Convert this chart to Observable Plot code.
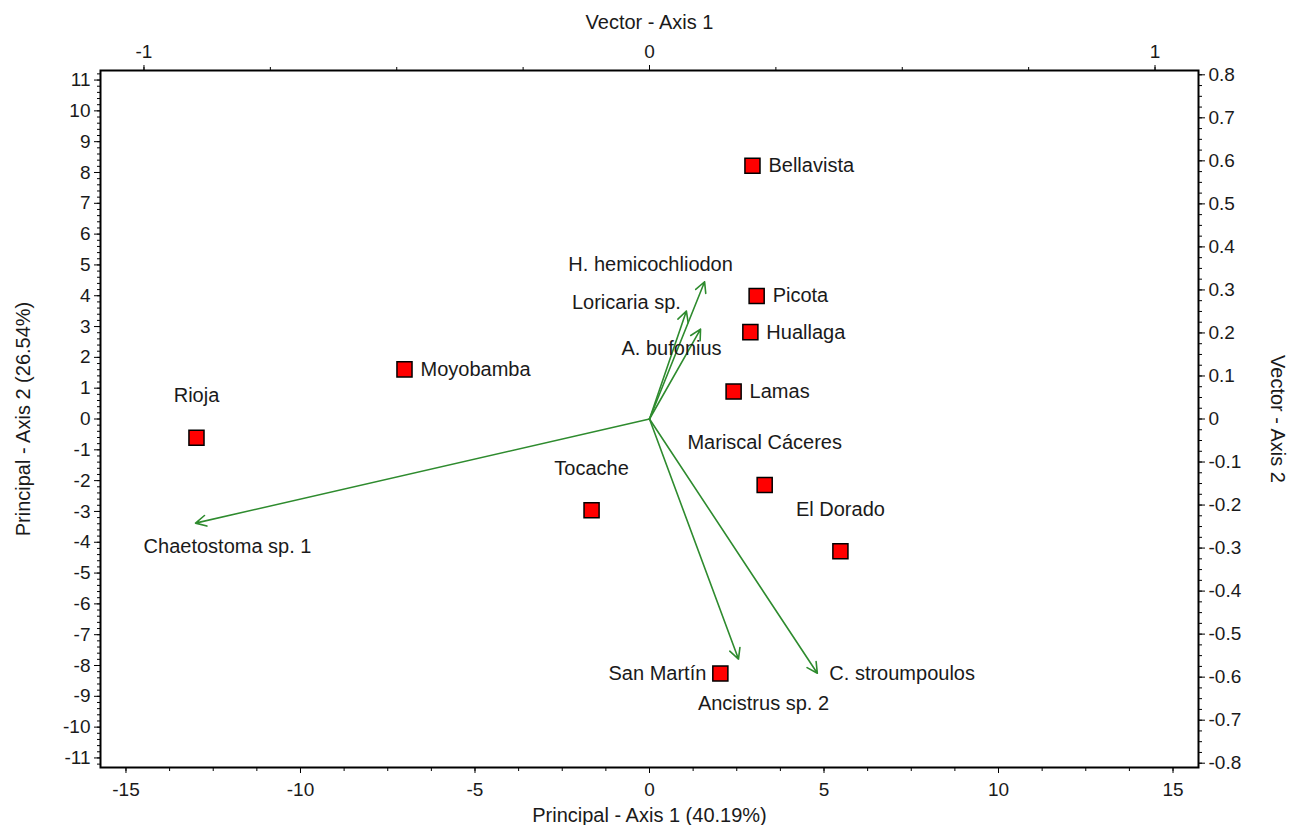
<!DOCTYPE html>
<html>
<head>
<meta charset="utf-8">
<script src="https://cdn.jsdelivr.net/npm/d3@7"></script>
<script src="https://cdn.jsdelivr.net/npm/@observablehq/plot@0.6"></script>
<style>
  body { margin: 0; background: #fff; }
  #chart { position: relative; width: 1292px; height: 825px; font-family: "Liberation Sans", Arial, sans-serif; }
  #chart svg { position: absolute; left: 0; top: 0; }
</style>
</head>
<body>
<div id="chart"></div>
<script>
// ---- Data: sites (principal coordinates) ----
const sites = ["Bellavista", "Picota", "Huallaga", "Lamas", "Moyobamba", "Rioja", "Tocache", "Mariscal Cáceres", "El Dorado", "San Martín"];
const siteX = [2.95, 3.07, 2.89, 2.41, -7.02, -12.98, -1.66, 3.30, 5.47, 2.03];
const siteY = [8.22, 3.99, 2.82, 0.89, 1.61, -0.61, -2.96, -2.14, -4.29, -8.26];

// ---- Data: species vectors (vector coordinates) ----
const species = ["Chaetostoma sp. 1", "H. hemicochliodon", "Loricaria sp.", "A. bufonius", "Ancistrus sp. 2", "C. stroumpoulos"];
const vecX = [-0.898, 0.109, 0.073, 0.101, 0.176, 0.332];
const vecY = [-0.242, 0.319, 0.251, 0.209, -0.558, -0.591];

// ---- Axis ticks ----
const principalXTicks = [-15, -10, -5, 0, 5, 10, 15];
const principalYTicks = [-11, -10, -9, -8, -7, -6, -5, -4, -3, -2, -1, 0, 1, 2, 3, 4, 5, 6, 7, 8, 9, 10, 11];
const vectorXTicks = [-1, 0, 1];
const vectorYTicks = [-0.8, -0.7, -0.6, -0.5, -0.4, -0.3, -0.2, -0.1, 0, 0.1, 0.2, 0.3, 0.4, 0.5, 0.6, 0.7, 0.8];

// ---- Axis titles ----
const titleTop = "Vector - Axis 1";
const titleBottom = "Principal - Axis 1 (40.19%)";
const titleLeft = "Principal - Axis 2 (26.54%)";
const titleRight = "Vector - Axis 2";

// ---- Build tables ----
const siteData = sites.map((name, i) => ({name, x: siteX[i], y: siteY[i]}));
const vecData = species.map((name, i) => ({name, vx: vecX[i], vy: vecY[i]}));

const W = 1292, H = 825;
const margins = {marginLeft: 100, marginRight: 94, marginTop: 70, marginBottom: 58};
const FONT = "Liberation Sans, Arial, sans-serif";
const green = "#2e8b2e";
const tickColor = "#1a1a1a";
const textColor = "#1a1a1a";

const fmtHyphen = (f) => (d) => {
  if (Math.abs(d) < 1e-9) return "0";
  return f(d).replace("−", "-");
};
const fmtInt = fmtHyphen(d3.format("d"));
const fmtDec = fmtHyphen(d3.format(".1f"));

const minor = (a, b, step) => d3.range(Math.round((b - a) / step) + 1).map(i => +(a + i * step).toFixed(6));

// ---- Layer 1: vectors (top & right axes) ----
const vecLabel = {
  "Chaetostoma sp. 1": {dx: 32, dy: 23, textAnchor: "middle"},
  "H. hemicochliodon": {dx: -54, dy: -17, textAnchor: "middle"},
  "Loricaria sp.": {dx: -60, dy: -8, textAnchor: "middle"},
  "A. bufonius": {dx: -29, dy: 20, textAnchor: "middle"},
  "Ancistrus sp. 2": {dx: 25, dy: 45, textAnchor: "middle"},
  "C. stroumpoulos": {dx: 12, dy: 0, textAnchor: "start"}
};

const vectorPlot = Plot.plot({
  width: W, height: H, ...margins,
  style: {background: "transparent", fontFamily: FONT, fontSize: "19px", color: "#000"},
  x: {domain: [-1.086, 1.086]},
  y: {domain: [-0.81, 0.81]},
  marks: [
    Plot.axisX(minor(-1, 1, 0.25), {anchor: "top", tickSize: 4, fill: "none", stroke: "#000"}),
    Plot.axisX(vectorXTicks, {anchor: "top", tickSize: 6, tickPadding: 7, tickFormat: fmtInt, label: null, fill: tickColor, stroke: "#000"}),
    Plot.axisY(minor(-0.8, 0.8, 0.025), {anchor: "right", tickSize: 3, fill: "none", stroke: "#000"}),
    Plot.axisY(vectorYTicks, {anchor: "right", tickSize: 6, tickPadding: 4, tickFormat: fmtDec, label: null, fill: tickColor, stroke: "#000"}),
    Plot.text([titleTop], {frameAnchor: "top", dy: -48, lineAnchor: "middle", fontSize: 20, fill: textColor}),
    Plot.text([titleRight], {frameAnchor: "right", dx: 79, rotate: 90, textAnchor: "middle", lineAnchor: "middle", fontSize: 20, fill: textColor}),
    Plot.arrow(vecData, {x1: () => 0, y1: () => 0, x2: "vx", y2: "vy", stroke: green, strokeWidth: 1.6, headLength: 11, headAngle: 55}),
    ...species.map(s => Plot.text(vecData.filter(d => d.name === s), {
      x: "vx", y: "vy", text: "name", fontSize: 20, fill: textColor, ...vecLabel[s]
    }))
  ]
});

// ---- Layer 2: sites (bottom & left axes, frame) ----
const aboveLabels = new Set(["Rioja", "Tocache", "Mariscal Cáceres", "El Dorado"]);
const leftLabels = new Set(["San Martín"]);

const sitePlot = Plot.plot({
  width: W, height: H, ...margins,
  style: {background: "transparent", fontFamily: FONT, fontSize: "19px", color: "#000"},
  x: {domain: [-15.73, 15.73]},
  y: {domain: [-11.31, 11.31]},
  marks: [
    Plot.axisX(minor(-15, 15, 1.25), {anchor: "bottom", tickSize: 4, fill: "none", stroke: "#000"}),
    Plot.axisX(principalXTicks, {anchor: "bottom", tickSize: 6, tickPadding: 9, tickFormat: fmtInt, label: null, fill: tickColor, stroke: "#000"}),
    Plot.axisY(minor(-11.2, 11.2, 0.2), {anchor: "left", tickSize: 3, fill: "none", stroke: "#000"}),
    Plot.axisY(principalYTicks, {anchor: "left", tickSize: 6, tickPadding: 4, tickFormat: fmtInt, label: null, fill: tickColor, stroke: "#000"}),
    Plot.frame({stroke: "#000", strokeWidth: 2}),
    Plot.text([titleBottom], {frameAnchor: "bottom", dy: 48, lineAnchor: "middle", fontSize: 20, fill: textColor}),
    Plot.text([titleLeft], {frameAnchor: "left", dx: -77, rotate: -90, textAnchor: "middle", lineAnchor: "middle", fontSize: 20, fill: textColor}),
    Plot.dot(siteData, {x: "x", y: "y", symbol: "square", r: 8.5, fill: "#ff0000", stroke: "#000", strokeWidth: 1.5}),
    Plot.text(siteData.filter(d => !aboveLabels.has(d.name) && !leftLabels.has(d.name)), {x: "x", y: "y", text: "name", dx: 16, textAnchor: "start", fontSize: 20, fill: textColor}),
    Plot.text(siteData.filter(d => leftLabels.has(d.name)), {x: "x", y: "y", text: "name", dx: -14, textAnchor: "end", fontSize: 20, fill: textColor}),
    Plot.text(siteData.filter(d => aboveLabels.has(d.name)), {x: "x", y: "y", text: "name", dy: -42, textAnchor: "middle", fontSize: 20, fill: textColor})
  ]
});

const chart = document.getElementById("chart");
chart.appendChild(vectorPlot);
chart.appendChild(sitePlot);
</script>
</body>
</html>
